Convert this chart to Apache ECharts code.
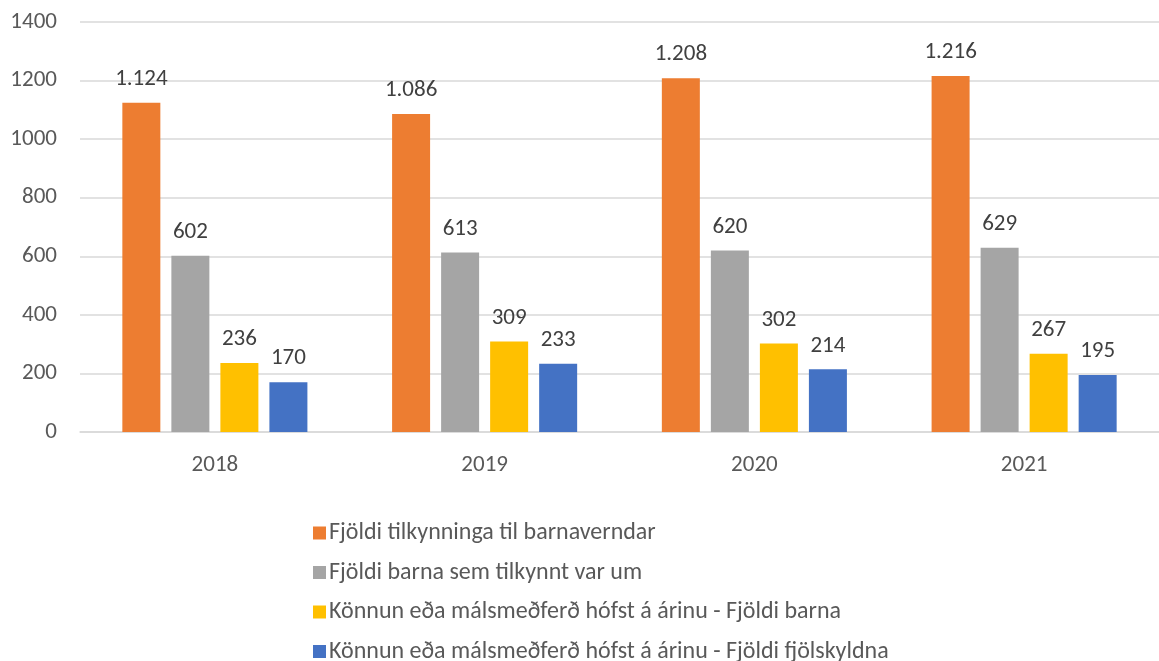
<!DOCTYPE html>
<html>
<head>
<meta charset="utf-8">
<script src="https://cdn.jsdelivr.net/npm/echarts@6/dist/echarts.min.js"></script>
<style>
	html, body { margin: 0; padding: 0; background: #fff; }
	#chart { width: 1159px; height: 661px; }
</style>
</head>
<body>
<div id="chart"></div>
<script>
	// categories and series values
	var years = ['2018', '2019', '2020', '2021'];
	var seriesNames = [
		'Fjöldi tilkynninga til barnaverndar',
		'Fjöldi barna sem tilkynnt var um',
		'Könnun eða málsmeðferð hófst á árinu - Fjöldi barna',
		'Könnun eða málsmeðferð hófst á árinu - Fjöldi fjölskyldna'
	];
	var tilkynningar = [1124, 1086, 1208, 1216];
	var born = [602, 613, 620, 629];
	var konnunBorn = [236, 309, 302, 267];
	var konnunFjolskyldur = [170, 233, 214, 195];
	var colors = ['#ED7D31', '#A5A5A5', '#FFC000', '#4472C4'];

	var font = 'Carlito, Calibri, "Liberation Sans", sans-serif';
	var textColor = '#595959';

	// thousands separator with dot
	var fmt = function(p){
		return String(p.value).replace(/\B(?=(\d{3})+(?!\d))/g, '.');
	};

	var makeSeries = function(name, data, color){
		return {
			name: name,
			type: 'bar',
			data: data,
			barWidth: 38,
			barGap: '29%',
			itemStyle: { color: color },
			label: {
				show: true,
				position: 'top',
				distance: 12,
				formatter: fmt,
				fontFamily: font,
				fontSize: 23,
				color: '#404040'
			}
		};
	};

	var myChart = echarts.init(document.getElementById('chart'));
	var option = {
		animation: false,
		textStyle: { fontFamily: font },
		grid: { left: 80, top: 22, width: 1092, height: 410, containLabel: false },
		legend: {
			orient: 'vertical',
			left: 308,
			top: 516,
			height: 200,
			itemWidth: 13,
			itemHeight: 13,
			itemGap: 15.5,
			icon: 'rect',
			textStyle: { fontFamily: font, fontSize: 24, color: textColor, padding: [0, 0, 0, -2] },
			data: seriesNames
		},
		xAxis: {
			type: 'category',
			data: years,
			axisLine: { lineStyle: { color: '#D9D9D9', width: 1.5 } },
			axisTick: { show: false },
			axisLabel: { fontFamily: font, fontSize: 23, color: textColor, margin: 22 }
		},
		yAxis: {
			type: 'value',
			min: 0,
			max: 1400,
			interval: 200,
			axisLine: { show: false },
			axisTick: { show: false },
			splitLine: { lineStyle: { color: '#D9D9D9', width: 1.5 } },
			axisLabel: {
				fontFamily: font, fontSize: 23, color: textColor, margin: 23,
				formatter: function(v){ return String(v); }
			}
		},
		series: [
			makeSeries(seriesNames[0], tilkynningar, colors[0]),
			makeSeries(seriesNames[1], born, colors[1]),
			makeSeries(seriesNames[2], konnunBorn, colors[2]),
			makeSeries(seriesNames[3], konnunFjolskyldur, colors[3])
		]
	};
	myChart.setOption(option);
</script>
</body>
</html>
